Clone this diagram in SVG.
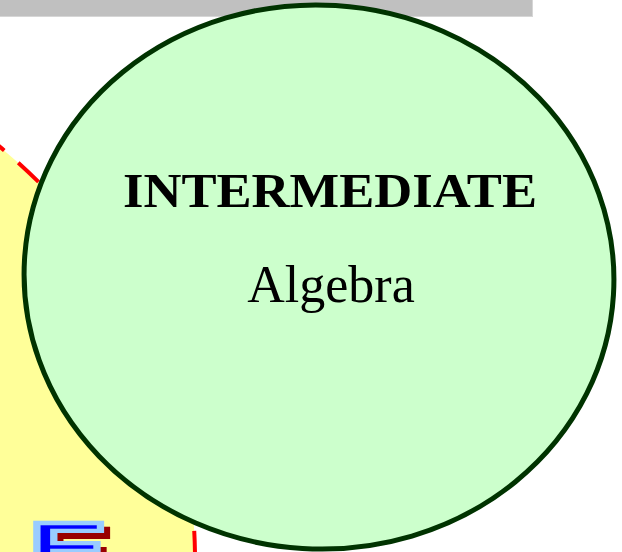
<svg xmlns="http://www.w3.org/2000/svg" width="622" height="552" viewBox="0 0 622 552">
  <defs>
    <filter id="shadow" x="-30%" y="-30%" width="170%" height="170%" color-interpolation-filters="sRGB">
      <feFlood flood-color="#990000" result="c"/>
      <feComposite in="c" in2="SourceAlpha" operator="in" result="s"/>
      <feOffset in="s" dx="6" dy="6" result="o"/>
      <feMerge>
        <feMergeNode in="o"/>
        <feMergeNode in="SourceGraphic"/>
      </feMerge>
    </filter>
  </defs>
  <style>
    .bar { fill: #c0c0c0; }
    .bar-edge { fill: #d6d6d6; }
    .yellow { fill: #ffff99; stroke: none; }
    .dashed { fill: none; stroke: #ff0000; stroke-width: 4; stroke-dasharray: 28 18.5; stroke-dashoffset: 27.1; }
    .node { fill: #ccffcc; stroke: #003300; stroke-width: 5; }
    .title { font-family: "Liberation Serif", "Times New Roman", serif; font-weight: bold; font-size: 48px; fill: #000000; }
    .sub { font-family: "Liberation Serif", "Times New Roman", serif; font-size: 52px; fill: #000000; }
    .logo { font-family: "Liberation Sans", Arial, sans-serif; font-weight: bold; font-size: 70px; fill: #0000ff; stroke: #99ccff; stroke-width: 6; stroke-linejoin: miter; }
  </style>

  <g id="top-bar">
    <rect class="bar-edge" x="0" y="0" width="533" height="17"/>
    <rect class="bar" x="0" y="0" width="532" height="16"/>
  </g>

  <g id="yellow-region">
    <circle class="yellow" cx="-340" cy="560" r="535"/>
    <path class="dashed" d="M -72.5 96.7 A 535 535 0 0 1 186.9 652.9"/>
  </g>

  <g id="logo-e" filter="url(#shadow)">
    <g transform="translate(29,572) scale(1.68,1)">
      <text class="logo" x="0" y="0" vector-effect="non-scaling-stroke">E</text>
    </g>
  </g>

  <g id="intermediate-node">
    <ellipse class="node" cx="319" cy="277" rx="295" ry="272" transform="rotate(3.5 319 277)"/>
    <text class="title" x="330" y="207" text-anchor="middle" textLength="414" lengthAdjust="spacingAndGlyphs">INTERMEDIATE</text>
    <text class="sub" x="331" y="302" text-anchor="middle">Algebra</text>
  </g>
</svg>
